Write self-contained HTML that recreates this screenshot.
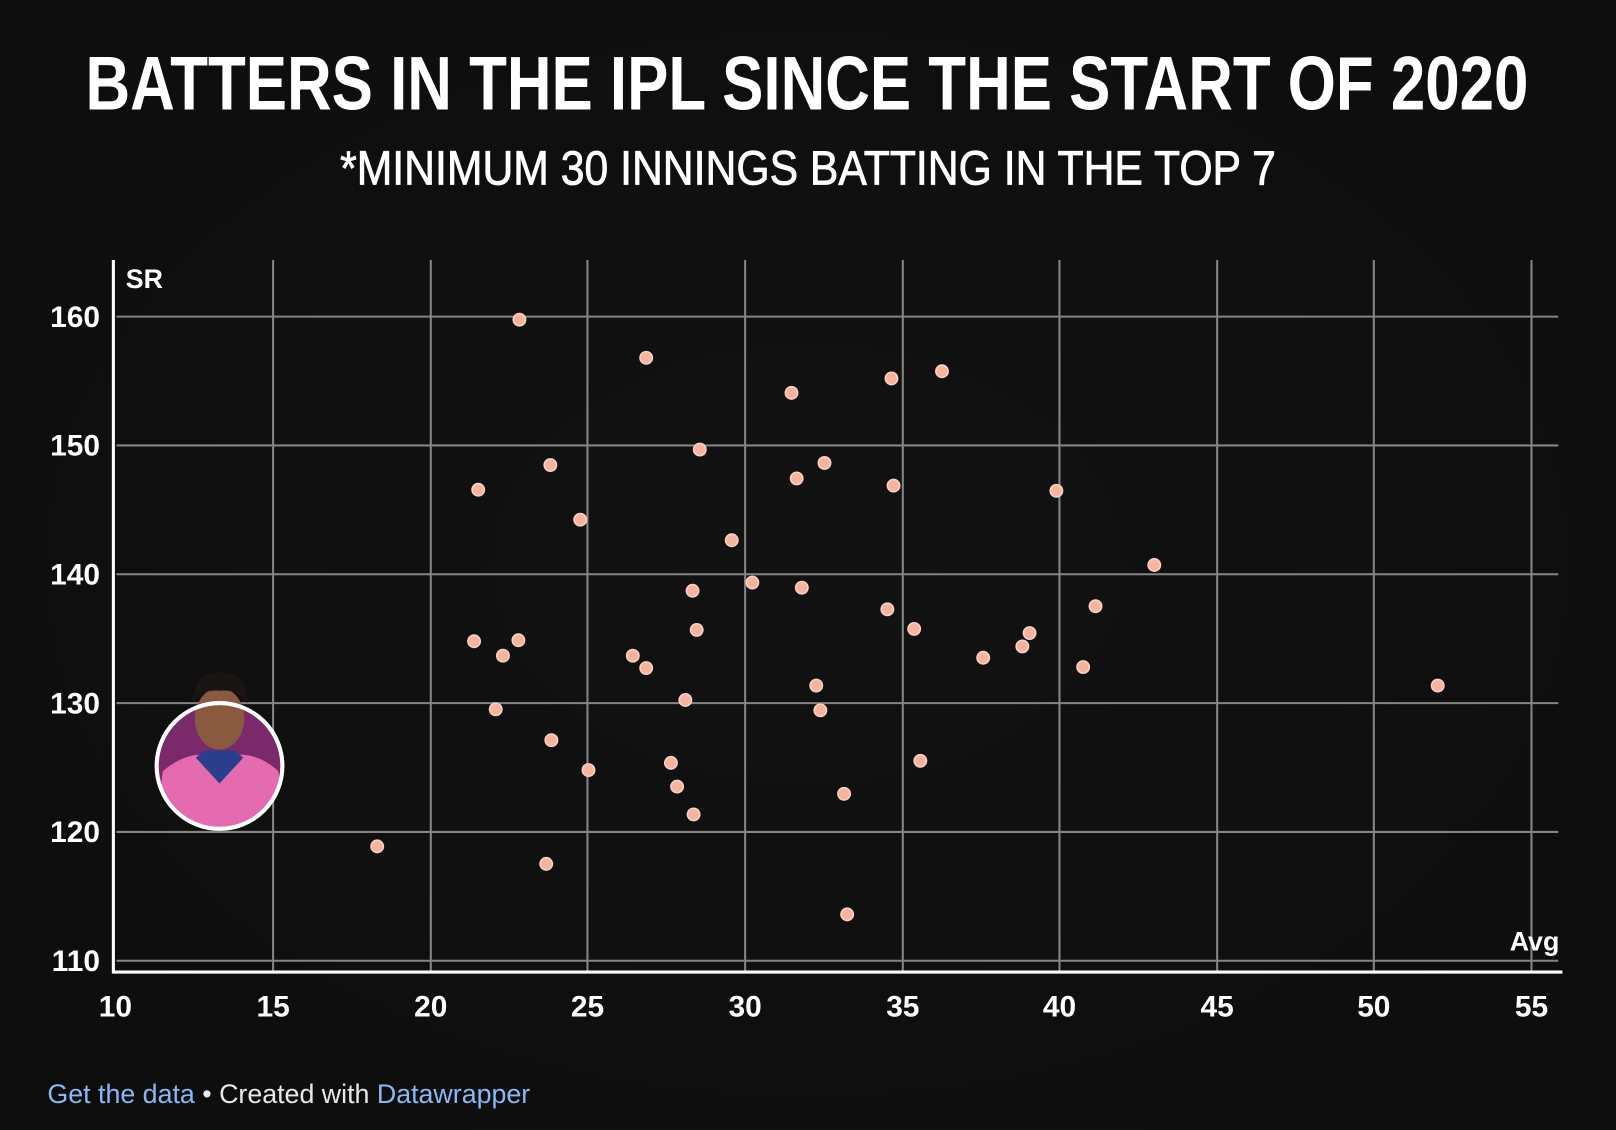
<!DOCTYPE html>
<html><head><meta charset="utf-8"><style>
html,body{margin:0;padding:0;background:#101010;}
svg{display:block;}
text{font-family:"Liberation Sans",sans-serif;}
</style></head><body>
<svg width="1616" height="1130" viewBox="0 0 1568 1096" xmlns="http://www.w3.org/2000/svg">
<defs>
<radialGradient id="bg" cx="50%" cy="50%" r="70%"><stop offset="0" stop-color="#121212"/><stop offset="1" stop-color="#0d0d0d"/></radialGradient>
<clipPath id="cc"><circle cx="213" cy="743" r="60"/></clipPath>
</defs>
<rect width="1568" height="1096" fill="url(#bg)"/>
<text x="783" y="106" text-anchor="middle" fill="#fff" font-size="74" font-weight="bold" textLength="1400" lengthAdjust="spacingAndGlyphs">BATTERS IN THE IPL SINCE THE START OF 2020</text>
<text x="784" y="179" text-anchor="middle" fill="#fff" stroke="#fff" stroke-width="0.8" font-size="47" textLength="908" lengthAdjust="spacingAndGlyphs">*MINIMUM 30 INNINGS BATTING IN THE TOP 7</text>
<g stroke="#858585" stroke-width="2">
<line x1="113" y1="307" x2="1512" y2="307"/><line x1="113" y1="432" x2="1512" y2="432"/><line x1="113" y1="557" x2="1512" y2="557"/><line x1="113" y1="682" x2="1512" y2="682"/><line x1="113" y1="807" x2="1512" y2="807"/><line x1="113" y1="932" x2="1512" y2="932"/>
<line x1="265" y1="252" x2="265" y2="942"/><line x1="418" y1="252" x2="418" y2="942"/><line x1="570" y1="252" x2="570" y2="942"/><line x1="723" y1="252" x2="723" y2="942"/><line x1="876" y1="252" x2="876" y2="942"/><line x1="1028" y1="252" x2="1028" y2="942"/><line x1="1181" y1="252" x2="1181" y2="942"/><line x1="1333" y1="252" x2="1333" y2="942"/><line x1="1486" y1="252" x2="1486" y2="942"/>
</g>
<line x1="110" y1="252" x2="110" y2="944" stroke="#fff" stroke-width="3"/>
<line x1="109" y1="943" x2="1516" y2="943" stroke="#fff" stroke-width="3"/>
<g fill="#fff" font-size="29" font-weight="bold" text-anchor="end">
<text x="97" y="317">160</text><text x="97" y="442">150</text><text x="97" y="567">140</text><text x="97" y="692">130</text><text x="97" y="817">120</text><text x="97" y="942">110</text>
</g>
<g fill="#fff" font-size="29" font-weight="bold" text-anchor="middle">
<text x="112" y="986">10</text><text x="265" y="986">15</text><text x="418" y="986">20</text><text x="570" y="986">25</text><text x="723" y="986">30</text><text x="876" y="986">35</text><text x="1028" y="986">40</text><text x="1181" y="986">45</text><text x="1333" y="986">50</text><text x="1486" y="986">55</text>
</g>
<text x="122" y="279" fill="#fff" font-size="26" font-weight="bold">SR</text>
<text x="1513" y="922" fill="#fff" font-size="26" font-weight="bold" text-anchor="end">Avg</text>
<g clip-path="url(#cc)">
<rect x="150" y="680" width="130" height="130" fill="#7a2a6a"/>
<path d="M150 810 L158 748 Q185 725 213 735 Q245 725 270 748 L280 810Z" fill="#e56bb0"/>
<path d="M190 735 L213 760 L236 735 L228 728 L198 728Z" fill="#2a3e8c"/>
</g>
<ellipse cx="213" cy="697" rx="24" ry="30" fill="#8a5a40"/>
<path d="M186 682 Q190 650 214 652 Q240 652 240 682 Q230 668 213 670 Q196 668 186 682Z" fill="#1a1412"/>
<circle cx="213" cy="743" r="61" fill="none" stroke="#fff" stroke-width="4"/>
<g fill="#f6b4a0" stroke="#f9d2c4" stroke-width="1.5">
<circle cx="504" cy="310" r="6"/><circle cx="627" cy="347" r="6"/><circle cx="768" cy="381" r="6"/><circle cx="865" cy="367" r="6"/><circle cx="914" cy="360" r="6"/><circle cx="679" cy="436" r="6"/><circle cx="534" cy="451" r="6"/><circle cx="773" cy="464" r="6"/><circle cx="800" cy="449" r="6"/><circle cx="464" cy="475" r="6"/><circle cx="867" cy="471" r="6"/><circle cx="1025" cy="476" r="6"/><circle cx="563" cy="504" r="6"/><circle cx="710" cy="524" r="6"/><circle cx="1120" cy="548" r="6"/><circle cx="730" cy="565" r="6"/><circle cx="672" cy="573" r="6"/><circle cx="778" cy="570" r="6"/><circle cx="861" cy="591" r="6"/><circle cx="1063" cy="588" r="6"/><circle cx="676" cy="611" r="6"/><circle cx="887" cy="610" r="6"/><circle cx="999" cy="614" r="6"/><circle cx="460" cy="622" r="6"/><circle cx="503" cy="621" r="6"/><circle cx="488" cy="636" r="6"/><circle cx="614" cy="636" r="6"/><circle cx="627" cy="648" r="6"/><circle cx="954" cy="638" r="6"/><circle cx="992" cy="627" r="6"/><circle cx="1051" cy="647" r="6"/><circle cx="792" cy="665" r="6"/><circle cx="1395" cy="665" r="6"/><circle cx="665" cy="679" r="6"/><circle cx="481" cy="688" r="6"/><circle cx="796" cy="689" r="6"/><circle cx="535" cy="718" r="6"/><circle cx="651" cy="740" r="6"/><circle cx="893" cy="738" r="6"/><circle cx="571" cy="747" r="6"/><circle cx="657" cy="763" r="6"/><circle cx="819" cy="770" r="6"/><circle cx="673" cy="790" r="6"/><circle cx="366" cy="821" r="6"/><circle cx="530" cy="838" r="6"/><circle cx="822" cy="887" r="6"/>
</g>
<text x="46" y="1070" font-size="26"><tspan fill="#8ab8f5">Get the data</tspan><tspan fill="#e8e8e8"> • Created with </tspan><tspan fill="#8ab8f5">Datawrapper</tspan></text>
</svg>
</body></html>
